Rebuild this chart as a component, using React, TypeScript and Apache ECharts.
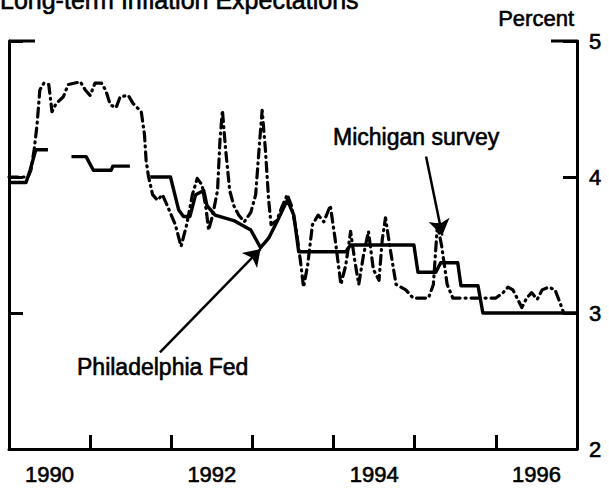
import React, { useEffect, useRef } from 'react';
import * as echarts from 'echarts';

// ---- data ----
const yearLabels = ['1990', '1991', '1992', '1993', '1994', '1995', '1996'];

// Philadelphia Fed (solid) [year, percent]; '-' marks a gap
const phillyFed: (number | string)[][] = [
  [1990.0, 3.96], [1990.21, 3.96], [1990.26, 4.05], [1990.33, 4.2], [1990.48, 4.2],
  [1990.6, '-'],
  [1990.77, 4.15], [1990.95, 4.15], [1991.04, 4.05], [1991.26, 4.05], [1991.28, 4.08], [1991.49, 4.08],
  [1991.6, '-'],
  [1991.74, 4.0], [1991.99, 4.0], [1992.09, 3.76], [1992.15, 3.71], [1992.23, 3.71],
  [1992.3, 3.87], [1992.4, 3.9], [1992.44, 3.79], [1992.54, 3.72], [1992.77, 3.68],
  [1992.98, 3.61], [1993.1, 3.48], [1993.2, 3.55], [1993.31, 3.68], [1993.43, 3.83],
  [1993.51, 3.72], [1993.57, 3.45], [1994.15, 3.45], [1994.21, 3.5], [1994.99, 3.5],
  [1995.04, 3.3], [1995.26, 3.3], [1995.32, 3.37], [1995.53, 3.37], [1995.57, 3.2],
  [1995.78, 3.2], [1995.84, 3.0], [1997.0, 3.0],
];

// Michigan survey (dash-dot) [year, percent]
const michigan: number[][] = [
  [1990.0, 4.0], [1990.235, 4.0], [1990.27, 4.05], [1990.31, 4.2], [1990.345, 4.38],
  [1990.38, 4.64], [1990.43, 4.69], [1990.49, 4.68], [1990.53, 4.48], [1990.58, 4.54],
  [1990.67, 4.59], [1990.73, 4.68], [1990.88, 4.7], [1990.94, 4.64], [1991.0, 4.6],
  [1991.06, 4.69], [1991.14, 4.69], [1991.19, 4.64], [1991.25, 4.53], [1991.32, 4.51],
  [1991.37, 4.59], [1991.47, 4.6], [1991.53, 4.54], [1991.58, 4.51], [1991.63, 4.48],
  [1991.67, 4.31], [1991.69, 4.12], [1991.72, 4.0], [1991.77, 3.87], [1991.83, 3.83],
  [1991.89, 3.87], [1991.95, 3.79], [1992.05, 3.65], [1992.12, 3.49], [1992.19, 3.65],
  [1992.26, 3.87], [1992.32, 3.99], [1992.38, 3.94], [1992.43, 3.76], [1992.46, 3.61],
  [1992.51, 3.72], [1992.57, 3.9], [1992.6, 4.27], [1992.63, 4.49], [1992.67, 4.2],
  [1992.72, 3.9], [1992.77, 3.79], [1992.83, 3.72], [1992.9, 3.67], [1992.98, 3.74],
  [1993.04, 3.87], [1993.09, 4.27], [1993.12, 4.49], [1993.16, 4.2], [1993.2, 3.83],
  [1993.23, 3.65], [1993.3, 3.68], [1993.37, 3.79], [1993.43, 3.87], [1993.48, 3.79],
  [1993.54, 3.61], [1993.59, 3.39], [1993.63, 3.19], [1993.68, 3.35], [1993.74, 3.65],
  [1993.81, 3.72], [1993.88, 3.67], [1993.96, 3.79], [1994.02, 3.54], [1994.09, 3.21],
  [1994.15, 3.35], [1994.21, 3.6], [1994.26, 3.39], [1994.31, 3.21], [1994.37, 3.43],
  [1994.43, 3.6], [1994.49, 3.32], [1994.56, 3.24], [1994.6, 3.54], [1994.64, 3.7],
  [1994.69, 3.5], [1994.77, 3.21], [1994.89, 3.17], [1994.98, 3.11], [1995.08, 3.11],
  [1995.17, 3.11], [1995.23, 3.21], [1995.28, 3.65], [1995.33, 3.5], [1995.4, 3.21],
  [1995.47, 3.11], [1995.6, 3.11], [1995.78, 3.11], [1995.9, 3.11], [1996.0, 3.11],
  [1996.09, 3.15], [1996.15, 3.19], [1996.21, 3.17], [1996.27, 3.1], [1996.32, 3.04],
  [1996.38, 3.11], [1996.44, 3.15], [1996.51, 3.1], [1996.57, 3.17], [1996.65, 3.19],
  [1996.73, 3.17], [1996.8, 3.06], [1996.83, 3.01],
];

// annotation arrows [from, to] in data space
const michiganArrow = [[1995.14, 4.15], [1995.34, 3.57]];
const phillyArrow = [[1991.86, 2.71], [1993.1, 3.47]];

const W = 609;
const H = 489;
const GRID = { left: 9, right: 32, top: 41, bottom: 40 };
const FONT = "'Liberation Sans', Arial, Helvetica, sans-serif";
const INK = { textBorderColor: '#000', textBorderWidth: 0.6 };

export default function App() {
  const ref = useRef<HTMLDivElement>(null);
  useEffect(() => {
    document.body.style.margin = '0';
    const chart = echarts.init(ref.current!, null, { renderer: 'svg', width: W, height: H });
    const axisLine = { color: '#000', width: 3 };
    const rightX = W - GRID.right;
    chart.setOption({
      animation: false,
      backgroundColor: '#fff',
      grid: { left: GRID.left, right: GRID.right, top: GRID.top, bottom: GRID.bottom },
      xAxis: [
        { type: 'value', min: 1990, max: 1997, show: false },
        {
          type: 'category',
          data: yearLabels,
          position: 'bottom',
          boundaryGap: true,
          axisLine: { show: true, lineStyle: axisLine },
          axisTick: { show: true, inside: true, length: 14, interval: 0, lineStyle: axisLine },
          axisLabel: { interval: 1, color: '#000', fontSize: 22, fontFamily: FONT, margin: 14, ...INK },
          splitLine: { show: false },
        },
      ],
      yAxis: [
        {
          type: 'value', position: 'left', min: 2, max: 5, interval: 1,
          axisLine: { show: true, lineStyle: axisLine },
          axisTick: { show: true, inside: true, length: 14, lineStyle: axisLine },
          axisLabel: { show: false },
          splitLine: { show: false },
        },
        {
          type: 'value', position: 'right', min: 2, max: 5, interval: 1,
          axisLine: { show: true, lineStyle: axisLine },
          axisTick: { show: true, inside: true, length: 14, lineStyle: axisLine },
          axisLabel: { show: true, color: '#000', fontSize: 22, fontFamily: FONT, margin: 12, ...INK },
          splitLine: { show: false },
        },
      ],
      series: [
        {
          type: 'line', name: 'Philadelphia Fed', xAxisIndex: 0, yAxisIndex: 0,
          data: phillyFed, symbol: 'none', showSymbol: false,
          lineStyle: { color: '#000', width: 3.4, join: 'round' },
          z: 3,
        },
        {
          type: 'line', name: 'Michigan survey', xAxisIndex: 0, yAxisIndex: 0,
          data: michigan, symbol: 'none', showSymbol: false,
          lineStyle: { color: '#000', width: 3.2, type: [9, 5, 1, 5], cap: 'round', join: 'round' },
          z: 2,
          markLine: {
            silent: true,
            symbol: ['none', 'arrow'],
            symbolSize: 16,
            itemStyle: { color: '#000' },
            lineStyle: { color: '#000', width: 2.5, type: 'solid' },
            label: { show: false },
            emphasis: { disabled: true },
            data: [
              [{ coord: michiganArrow[0] }, { coord: michiganArrow[1] }],
              [{ coord: phillyArrow[0] }, { coord: phillyArrow[1] }],
            ],
          },
        },
      ],
      graphic: [
        { type: 'text', style: { text: 'Long-term Inflation Expectations', x: 0, y: 0, fontSize: 25, fontFamily: FONT, fill: '#000', align: 'left', verticalAlign: 'middle', stroke: '#000', lineWidth: 0.6 } },
        { type: 'text', style: { text: 'Percent', x: rightX - 3, y: 18, fontSize: 22, fontFamily: FONT, fill: '#000', align: 'right', verticalAlign: 'middle', stroke: '#000', lineWidth: 0.6 } },
        { type: 'text', style: { text: 'Michigan survey', x: 333, y: 137, fontSize: 23, fontFamily: FONT, fill: '#000', align: 'left', verticalAlign: 'middle', stroke: '#000', lineWidth: 0.6 } },
        { type: 'text', style: { text: 'Philadelphia Fed', x: 77, y: 367, fontSize: 23, fontFamily: FONT, fill: '#000', align: 'left', verticalAlign: 'middle', stroke: '#000', lineWidth: 0.6 } },
        { type: 'line', shape: { x1: GRID.left, y1: GRID.top, x2: GRID.left + 26, y2: GRID.top }, style: { stroke: '#000', lineWidth: 3 } },
        { type: 'line', shape: { x1: rightX - 26, y1: GRID.top, x2: rightX, y2: GRID.top }, style: { stroke: '#000', lineWidth: 3 } },
      ],
    });
    return () => chart.dispose();
  }, []);
  return <div ref={ref} style={{ width: W, height: H, position: 'absolute', left: 0, top: 0 }} />;
}
